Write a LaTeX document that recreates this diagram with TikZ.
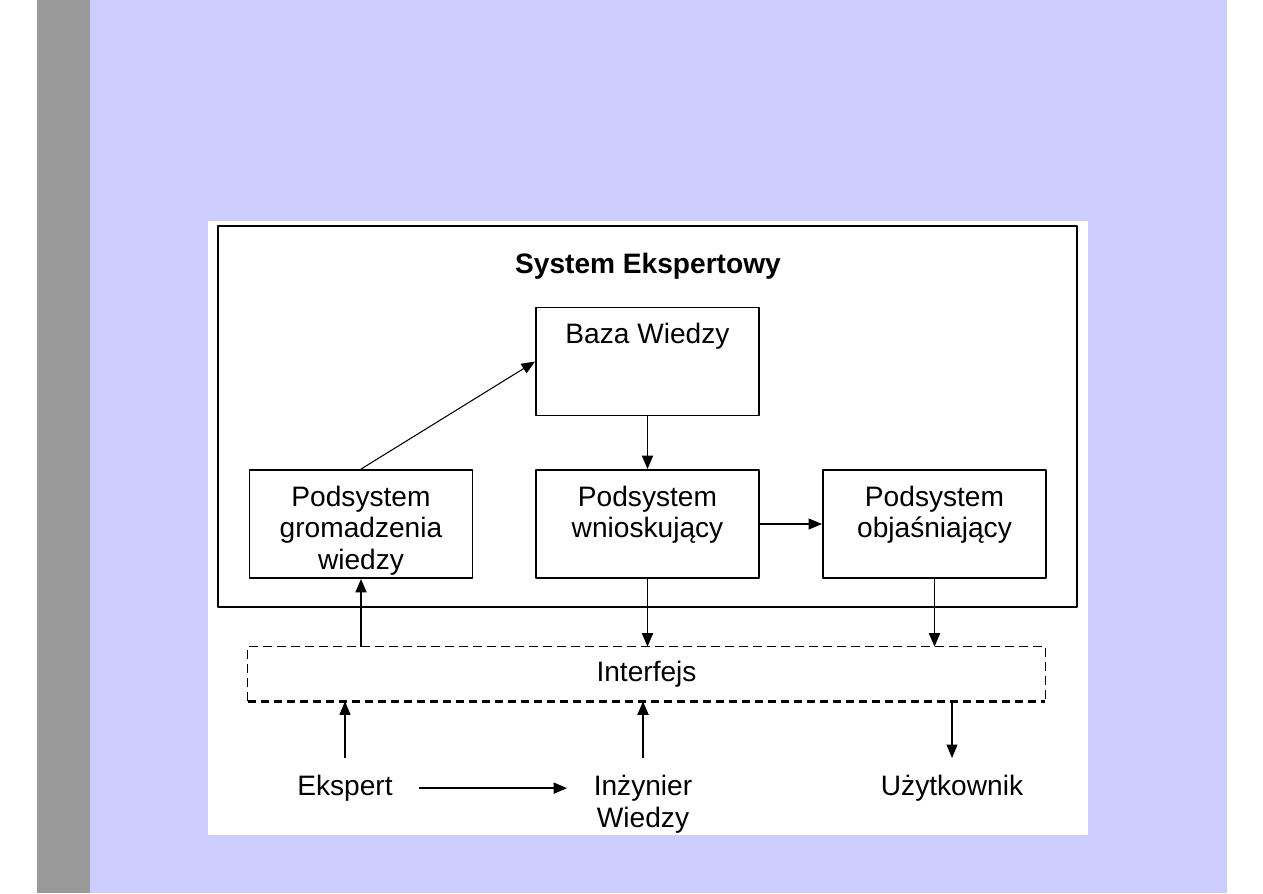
\documentclass[tikz,border=0pt]{standalone}
\usepackage{fontspec}
\setmainfont{Liberation Sans}
\usetikzlibrary{arrows.meta,positioning}
\definecolor{lawenda}{RGB}{204,204,255}
\definecolor{szary}{RGB}{153,153,153}
\tikzset{
	blok/.style={draw, line width=1.1pt, minimum width=4.46cm, minimum height=2.16cm, inner sep=0pt},
	opis/.style={align=center, inner sep=0pt},
	osoba/.style={align=center, inner xsep=15pt, inner ysep=9.5pt, anchor=north},
	gruba/.style={line width=1.1pt},
	cienka/.style={line width=0.6pt}
}
\begin{document}
\begin{tikzpicture}[x=0.02cm, y=-0.02cm, font=\fontsize{16}{18}\selectfont, line join=round,
		>={Triangle[length=0.27cm,width=0.22cm]}]
	\useasboundingbox (0,0) rectangle (1263,893);
	\fill[white] (0,0) rectangle (1263,893);
	\fill[szary] (37,0) rectangle (90,893);
	\fill[lawenda] (90,0) rectangle (1227,893);
	\fill[white] (208,221) rectangle (1088,835);
	% system ekspertowy
	\node[draw, line width=1.1pt, minimum width=17.18cm, minimum height=7.62cm] (system) at (647.5,416.5) {};
	\node[font=\fontsize{16}{18}\selectfont\bfseries] (tytul) at (648,266) {System Ekspertowy};
	\node[blok] (baza) at (647.5,361.5) {};
	\node[blok] (gromadzenie) at (361,524) {};
	\node[blok] (wnioskowanie) at (647.5,524) {};
	\node[blok] (objasnianie) at (934.5,524) {};
	\node[opis, below=0.33cm of baza.north] (bazatxt) {Baza Wiedzy};
	\node[opis, below=0.33cm of gromadzenie.north] (gromadzenietxt) {Podsystem\\gromadzenia\\wiedzy};
	\node[opis, below=0.33cm of wnioskowanie.north] (wnioskowanietxt) {Podsystem\\wnioskujący};
	\node[opis, below=0.33cm of objasnianie.north] (objasnianietxt) {Podsystem\\objaśniający};
	% interfejs
	\node[minimum width=15.94cm, minimum height=1.08cm, inner sep=0pt] (interfejs) at (646.5,674) {Interfejs};
	\draw[cienka, dash pattern=on 0.18cm off 0.1cm] (interfejs.south west) |- (interfejs.north east) -- (interfejs.south east);
	\draw[line width=1.7pt, dash pattern=on 0.16cm off 0.1cm] (interfejs.south west) -- (interfejs.south east);
	% ludzie
	\node[osoba] (ekspert) at (345,758) {Ekspert};
	\node[osoba] (inzynier) at (643,758) {Inżynier\\Wiedzy};
	\node[osoba] (uzytkownik) at (952,758) {Użytkownik};
	% strzalki
	\draw[->, cienka] (gromadzenie.north) -- (baza.west);
	\draw[->, gruba] (baza.south) -- (wnioskowanie.north);
	\draw[->, cienka] (wnioskowanie.east) -- (objasnianie.west);
	\draw[->, gruba] (interfejs.north -| gromadzenie.south) -- (gromadzenie.south);
	\draw[->, gruba] (wnioskowanie.south) -- (wnioskowanie.south |- interfejs.north);
	\draw[->, gruba] (objasnianie.south) -- (objasnianie.south |- interfejs.north);
	\draw[->, cienka] (ekspert.north) -- (ekspert.north |- interfejs.south);
	\draw[->, gruba] (inzynier.north) -- (inzynier.north |- interfejs.south);
	\draw[->, cienka] (interfejs.south -| uzytkownik.north) -- (uzytkownik.north);
	\draw[->, gruba] (ekspert.east) -- (ekspert.east -| inzynier.west);
\end{tikzpicture}
\end{document}
